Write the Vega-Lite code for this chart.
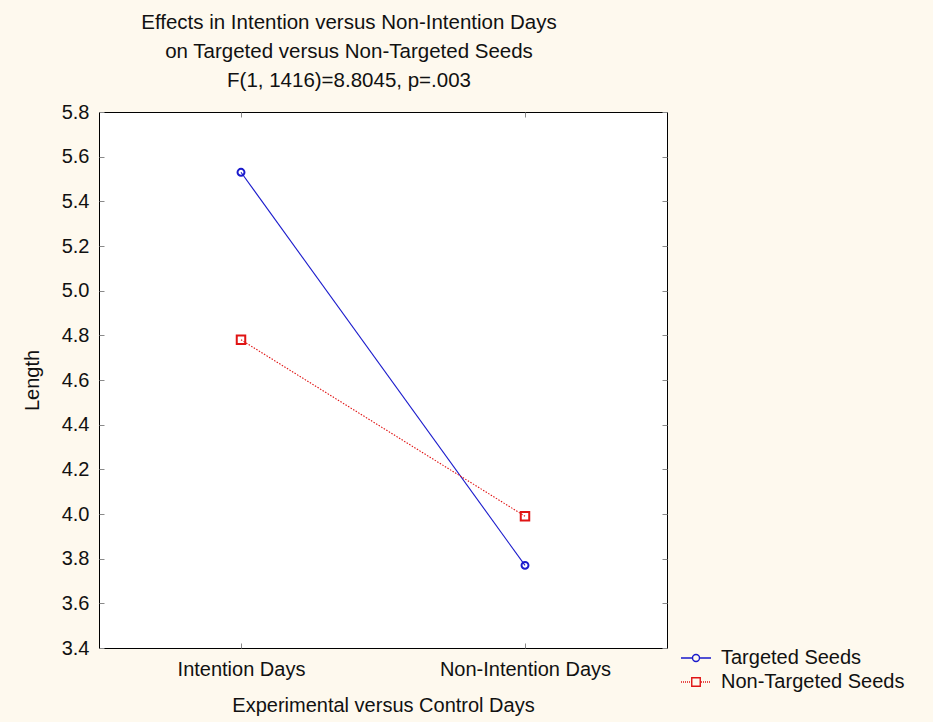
{
  "$schema": "https://vega.github.io/schema/vega-lite/v6.json",
  "width": 568,
  "height": 536,
  "autosize": "none",
  "padding": {"left": 99, "top": 112, "right": 266, "bottom": 74},
  "background": "#FEF9EE",
  "config": {
    "font": "Liberation Sans",
    "view": {"stroke": "#000000", "strokeWidth": 1, "fill": "#FFFFFF"},
    "axis": {
      "grid": false,
      "domain": false,
      "tickColor": "#8A8A8A",
      "tickSize": -5,
      "labelFont": "Liberation Sans",
      "labelFontSize": 20,
      "labelColor": "#111111",
      "titleFont": "Liberation Sans",
      "titleFontSize": 20,
      "titleFontWeight": "normal",
      "titleColor": "#111111"
    },
    "legend": {
      "labelFont": "Liberation Sans",
      "labelFontSize": 20,
      "labelColor": "#111111",
      "labelLimit": 400
    }
  },
  "title": {
    "text": [
      "Effects in Intention versus Non-Intention Days",
      "on Targeted versus Non-Targeted Seeds",
      "F(1, 1416)=8.8045, p=.003"
    ],
    "font": "Liberation Sans",
    "fontSize": 20.5,
    "fontWeight": "normal",
    "color": "#111111",
    "lineHeight": 29,
    "anchor": "middle",
    "dx": -34,
    "offset": 11
  },
  "data": {
    "values": [
      {"day": "Intention Days", "seed": "Targeted Seeds", "length": 5.53},
      {"day": "Non-Intention Days", "seed": "Targeted Seeds", "length": 3.77},
      {"day": "Intention Days", "seed": "Non-Targeted Seeds", "length": 4.78},
      {"day": "Non-Intention Days", "seed": "Non-Targeted Seeds", "length": 3.99}
    ]
  },
  "layer": [
    {
      "transform": [{"filter": "datum.seed === 'Targeted Seeds'"}],
      "mark": {"type": "line", "strokeWidth": 1.1},
      "encoding": {
        "x": {
          "field": "day",
          "type": "ordinal",
          "scale": {"type": "point", "padding": 0.5, "domain": ["Intention Days", "Non-Intention Days"]},
          "title": "Experimental versus Control Days",
          "axis": {"labelAngle": 0, "labelPadding": 16, "titlePadding": 16}
        },
        "y": {
          "field": "length",
          "type": "quantitative",
          "scale": {"domain": [3.4, 5.8], "nice": false, "zero": false},
          "title": "Length",
          "axis": {
            "values": [3.4, 3.6, 3.8, 4.0, 4.2, 4.4, 4.6, 4.8, 5.0, 5.2, 5.4, 5.6, 5.8],
            "format": ".1f",
            "labelPadding": 15,
            "titlePadding": 19
          }
        },
        "color": {
          "field": "seed",
          "type": "nominal",
          "scale": {
            "domain": ["Targeted Seeds", "Non-Targeted Seeds"],
            "range": ["#1A1ACC", "#E01414"]
          },
          "legend": {
            "title": null,
            "orient": "none",
            "legendX": 587,
            "legendY": 536,
            "padding": 0,
            "symbolSize": 100,
            "symbolStrokeWidth": 1.4,
            "labelOffset": 15,
            "rowPadding": 4
          }
        }
      }
    },
    {
      "transform": [{"filter": "datum.seed === 'Non-Targeted Seeds'"}],
      "mark": {"type": "line", "strokeWidth": 1.1, "strokeDash": [1.5, 1.5]},
      "encoding": {
        "x": {"field": "day", "type": "ordinal", "axis": null},
        "y": {"field": "length", "type": "quantitative", "axis": null},
        "color": {
          "field": "seed",
          "type": "nominal",
          "legend": {
            "title": null,
            "orient": "none",
            "legendX": 587,
            "legendY": 536,
            "padding": 0,
            "symbolSize": 100,
            "symbolStrokeWidth": 1.4,
            "labelOffset": 15,
            "rowPadding": 4
          }
        }
      }
    },
    {
      "transform": [{"filter": "datum.seed === 'Targeted Seeds'"}],
      "mark": {"type": "point", "shape": "circle", "filled": false, "strokeWidth": 2, "size": 48, "opacity": 1},
      "encoding": {
        "x": {"field": "day", "type": "ordinal", "axis": null},
        "y": {"field": "length", "type": "quantitative", "axis": null},
        "color": {
          "field": "seed",
          "type": "nominal",
          "legend": {
            "title": null,
            "orient": "none",
            "legendX": 587,
            "legendY": 536,
            "padding": 0,
            "symbolSize": 100,
            "symbolStrokeWidth": 1.4,
            "labelOffset": 15,
            "rowPadding": 4
          }
        }
      }
    },
    {
      "transform": [{"filter": "datum.seed === 'Non-Targeted Seeds'"}],
      "mark": {"type": "point", "shape": "square", "filled": false, "strokeWidth": 2, "size": 72, "opacity": 1},
      "encoding": {
        "x": {"field": "day", "type": "ordinal", "axis": null},
        "y": {"field": "length", "type": "quantitative", "axis": null},
        "color": {
          "field": "seed",
          "type": "nominal",
          "legend": {
            "title": null,
            "orient": "none",
            "legendX": 587,
            "legendY": 536,
            "padding": 0,
            "symbolSize": 100,
            "symbolStrokeWidth": 1.4,
            "labelOffset": 15,
            "rowPadding": 4
          }
        }
      }
    },
    {
      "transform": [{"filter": "datum.length < 0"}],
      "mark": {"type": "point", "filled": false, "strokeWidth": 1.4, "size": 100, "opacity": 1},
      "encoding": {
        "x": {"field": "day", "type": "ordinal", "axis": null},
        "y": {"field": "length", "type": "quantitative", "axis": null},
        "color": {
          "field": "seed",
          "type": "nominal",
          "legend": {
            "title": null,
            "orient": "none",
            "legendX": 587,
            "legendY": 536,
            "padding": 0,
            "symbolSize": 100,
            "symbolStrokeWidth": 1.4,
            "labelOffset": 15,
            "rowPadding": 4
          }
        },
        "shape": {
          "field": "seed",
          "type": "nominal",
          "scale": {
            "domain": ["Targeted Seeds", "Non-Targeted Seeds"],
            "range": [
              "M-3,0H-0.7M0.7,0H3M0.7,0A0.7,0.7,0,1,1,-0.7,0A0.7,0.7,0,1,1,0.7,0",
              "M-3,0h0.2M-2.6,0h0.2M-2.2,0h0.2M-1.8,0h0.2M-1.4,0h0.2M-1.0,0h0.1M-0.85,-0.85H0.85V0.85H-0.85ZM1.0,0h0.2M1.4,0h0.2M1.8,0h0.2M2.2,0h0.2M2.6,0h0.2"
            ]
          },
          "legend": null
        }
      }
    },
    {
      "mark": {"type": "point", "opacity": 0},
      "encoding": {
        "x": {
          "field": "day",
          "type": "ordinal",
          "axis": {"orient": "top", "labels": false, "title": null}
        },
        "y": {
          "field": "length",
          "type": "quantitative",
          "axis": {
            "orient": "right",
            "labels": false,
            "title": null,
            "values": [3.4, 3.6, 3.8, 4.0, 4.2, 4.4, 4.6, 4.8, 5.0, 5.2, 5.4, 5.6, 5.8]
          }
        }
      }
    }
  ],
  "resolve": {
    "axis": {"x": "independent", "y": "independent"}
  }
}
